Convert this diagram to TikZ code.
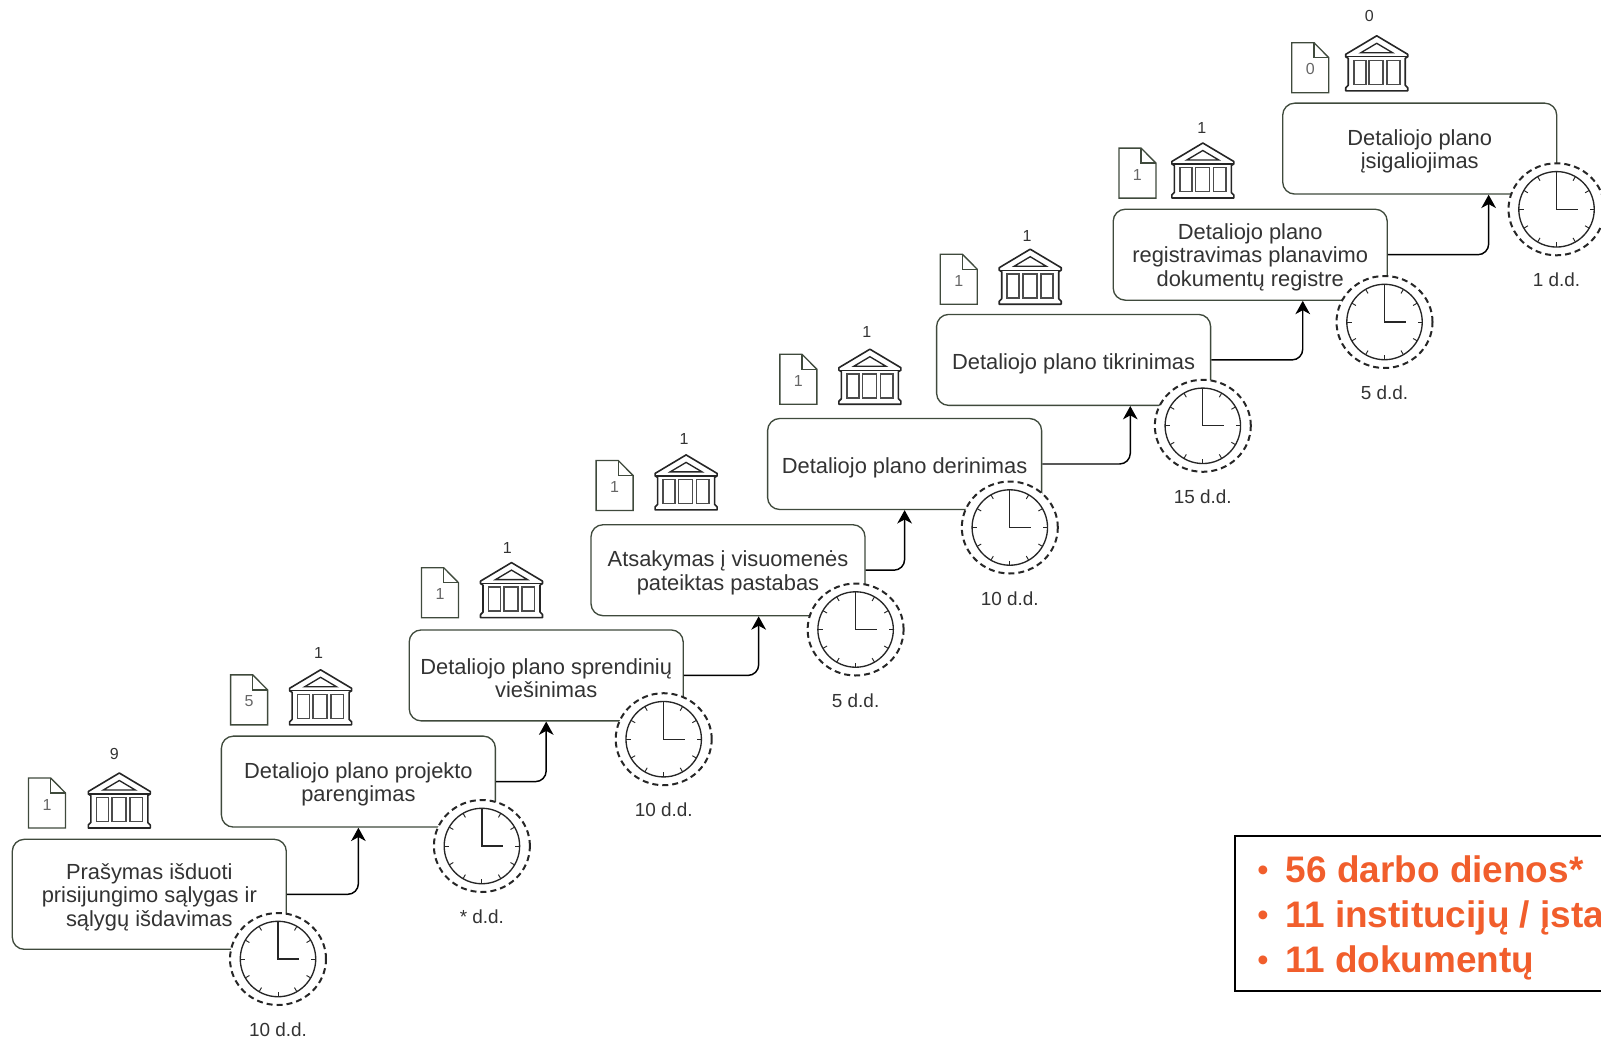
\documentclass[tikz,border=0pt]{standalone}
\usepackage{fontspec}
\setmainfont{Liberation Sans}
\usetikzlibrary{shapes,arrows,arrows.meta,positioning}
\definecolor{boxline}{HTML}{3F4A3C}
\definecolor{textgrey}{HTML}{333333}
\definecolor{docgrey}{HTML}{666666}
\definecolor{legendorange}{HTML}{F15E2C}
\newcommand{\legendbullet}{\makebox[22.2pt][l]{\raisebox{1.5pt}{\hspace{1pt}\fontsize{23}{23}\selectfont •}}}
\newcommand{\firstline}{\rule{0pt}{15.8pt}}
\tikzset{
  stagebox/.style={draw=boxline, line width=1pt, fill=white, rounded corners=9pt, minimum width=205.5pt, minimum height=68.2pt, align=center, text=textgrey, font=\fontsize{16.4}{17.6}\selectfont, inner sep=0pt, execute at begin node=\rule{0pt}{17.5pt}},
  flowline/.style={-{Stealth[length=10pt,width=11pt,inset=3pt]}, black, line width=1.1pt, rounded corners=8pt},
  clockring/.style={draw=black!85, dashed, dash pattern=on 4.5pt off 3pt, line width=1.5pt, ellipse, fill=white, minimum width=72pt, minimum height=69pt, inner sep=0pt},
  daylabel/.style={text=textgrey, font=\fontsize{14.2}{15}\selectfont, inner sep=0pt},
  countlabel/.style={text=textgrey, font=\fontsize{12}{13}\selectfont, inner sep=0pt},
  docnumber/.style={text=docgrey, font=\fontsize{12}{13}\selectfont, inner sep=0pt},
  legendline/.style={anchor=base west, text=legendorange, font=\fontsize{27.7}{33}\selectfont\bfseries, inner sep=0pt},
  pics/clockface/.style={code={
    \draw[black!85, line width=1pt] (0,0) circle[radius=28.3pt];
    \foreach \a in {0,30,...,330} \draw[black!85, line width=0.7pt] (\a:37.7) -- (\a:33);
    \draw[black!85, line width=1pt] (0,-37.7) -- (0,0) -- (21,0);
  }},
  pics/docsheet/.style={code={
    \draw[boxline, line width=1pt, line join=miter] (-18.5,-25) -- (3.7,-25) -- (18.5,-10) -- (18.5,25) -- (-18.5,25) -- cycle;
    \draw[boxline, line width=1pt] (3.7,-25) -- (3.7,-10) -- (18.5,-10);
  }},
  pics/bankicon/.style={code={
    \draw[black!85, line width=1.2pt, line join=round] (-31,-9) -- (0,-27.5) -- (31,-9) -- (31,-6.5) -- (28.5,-5) -- (28.5,22) -- (31,24.5) -- (31,27.5) -- (-31,27.5) -- (-31,24.5) -- (-28.5,22) -- (-28.5,-5) -- (-31,-6.5) -- cycle;
    \draw[black!85, line width=1pt] (-31,-6.5) -- (31,-6.5);
    \draw[black!85, line width=1pt] (-16,-10.5) -- (0,-20) -- (16,-10.5) -- cycle;
    \draw[black!70, line width=1.2pt] (-23,-3) rectangle (-11,21) (-7.5,-3) rectangle (6.5,21) (10.5,-3) rectangle (23,21);
  }},
}
\begin{document}
\begin{tikzpicture}[x=0.75pt,y=-0.75pt]
\useasboundingbox (0,0) rectangle (1601,1039);
%============
\node[stagebox, minimum height=82.5pt] (B1) at (149.3,894.3) {\firstline Prašymas išduoti\\prisijungimo sąlygas ir\\sąlygų išdavimas};
\node[stagebox] (B2) at (358.4,781.6) {\firstline Detaliojo plano projekto\\parengimas};
\node[stagebox] (B3) at (546.2,675.4) {\firstline Detaliojo plano sprendinių\\viešinimas};
\node[stagebox] (B4) at (728,570.2) {\firstline Atsakymas į visuomenės\\pateiktas pastabas};
\node[stagebox] (B5) at (904.6,464) {Detaliojo plano derinimas};
\node[stagebox] (B6) at (1073.6,359.9) {Detaliojo plano tikrinimas};
\node[stagebox] (B7) at (1250.2,254.7) {\firstline Detaliojo plano\\registravimas planavimo\\dokumentų registre};
\node[stagebox] (B8) at (1419.7,148.6) {\firstline Detaliojo plano\\įsigaliojimas};
%============
\draw[flowline] (B1.east) -| (B2.south);
\draw[flowline] (B2.east) -| (B3.south);
\draw[flowline] (B3.east) -| ([xshift=23pt]B4.south);
\draw[flowline] (B4.east) -| (B5.south);
\draw[flowline] (B5.east) -| ([xshift=42.5pt]B6.south);
\draw[flowline] (B6.east) -| ([xshift=39.4pt]B7.south);
\draw[flowline] (B7.east) -| ([xshift=51.7pt]B8.south);
%============
\node[clockring] (C1) at (278,959) {};
\node[clockring] (C2) at (481.9,846) {};
\node[clockring] (C3) at (663.7,739.2) {};
\node[clockring] (C4) at (855.6,629.5) {};
\node[clockring] (C5) at (1009.8,527.5) {};
\node[clockring] (C6) at (1202.8,425.8) {};
\node[clockring] (C7) at (1384.5,322) {};
\node[clockring] (C8) at (1556.5,209.3) {};
\pic at (C1) {clockface};
\pic at (C2) {clockface};
\pic at (C3) {clockface};
\pic at (C4) {clockface};
\pic at (C5) {clockface};
\pic at (C6) {clockface};
\pic at (C7) {clockface};
\pic at (C8) {clockface};
%============
\node[daylabel, below=12.5pt of C1] (T1) {10 d.d.};
\node[daylabel, below=12.5pt of C2] (T2) {* d.d.};
\node[daylabel, below=12.5pt of C3] (T3) {10 d.d.};
\node[daylabel, below=12.5pt of C4] (T4) {5 d.d.};
\node[daylabel, below=12.5pt of C5] (T5) {10 d.d.};
\node[daylabel, below=12.5pt of C6] (T6) {15 d.d.};
\node[daylabel, below=12.5pt of C7] (T7) {5 d.d.};
\node[daylabel, below=12.5pt of C8] (T8) {1 d.d.};
%============
\node[docnumber] (D1) at (47,805) {1};
\node[docnumber] (D2) at (249.1,701.5) {5};
\node[docnumber] (D3) at (440,594.2) {1};
\node[docnumber] (D4) at (614.6,487) {1};
\node[docnumber] (D5) at (798.4,380.8) {1};
\node[docnumber] (D6) at (958.7,280.7) {1};
\node[docnumber] (D7) at (1137.4,174.6) {1};
\node[docnumber] (D8) at (1310.3,69.4) {0};
\pic at (47,803) {docsheet};
\pic at (249.1,699.9) {docsheet};
\pic at (440,592.7) {docsheet};
\pic at (614.6,485.5) {docsheet};
\pic at (798.4,379.3) {docsheet};
\pic at (958.7,279.2) {docsheet};
\pic at (1137.4,173.1) {docsheet};
\pic at (1310.3,67.7) {docsheet};
%============
\pic at (119.3,800.5) {bankicon};
\pic at (320.6,697.3) {bankicon};
\pic at (511.5,590.1) {bankicon};
\pic at (686.1,482.4) {bankicon};
\pic at (869.9,376.7) {bankicon};
\pic at (1030.2,276.7) {bankicon};
\pic at (1202.8,170.5) {bankicon};
\pic at (1376.7,63.3) {bankicon};
\node[countlabel] (N1) at (114.4,753.5) {9};
\node[countlabel] (N2) at (318.6,653.4) {1};
\node[countlabel] (N3) at (507.4,548.3) {1};
\node[countlabel] (N4) at (684,439) {1};
\node[countlabel] (N5) at (866.8,331.8) {1};
\node[countlabel] (N6) at (1027,235.8) {1};
\node[countlabel] (N7) at (1201.7,127.6) {1};
\node[countlabel] (N8) at (1369.2,16.3) {0};
%============
\draw[black, line width=1.7pt] (1601,836) -- (1235,836) -- (1235,991) -- (1601,991);
\node[legendline] (L1) at (1256,882) {\legendbullet 56 darbo dienos*};
\node[legendline] (L2) at (1256,927) {\legendbullet 11 institucijų / įsta};
\node[legendline] (L3) at (1256,972) {\legendbullet 11 dokumentų};
\end{tikzpicture}
\end{document}
